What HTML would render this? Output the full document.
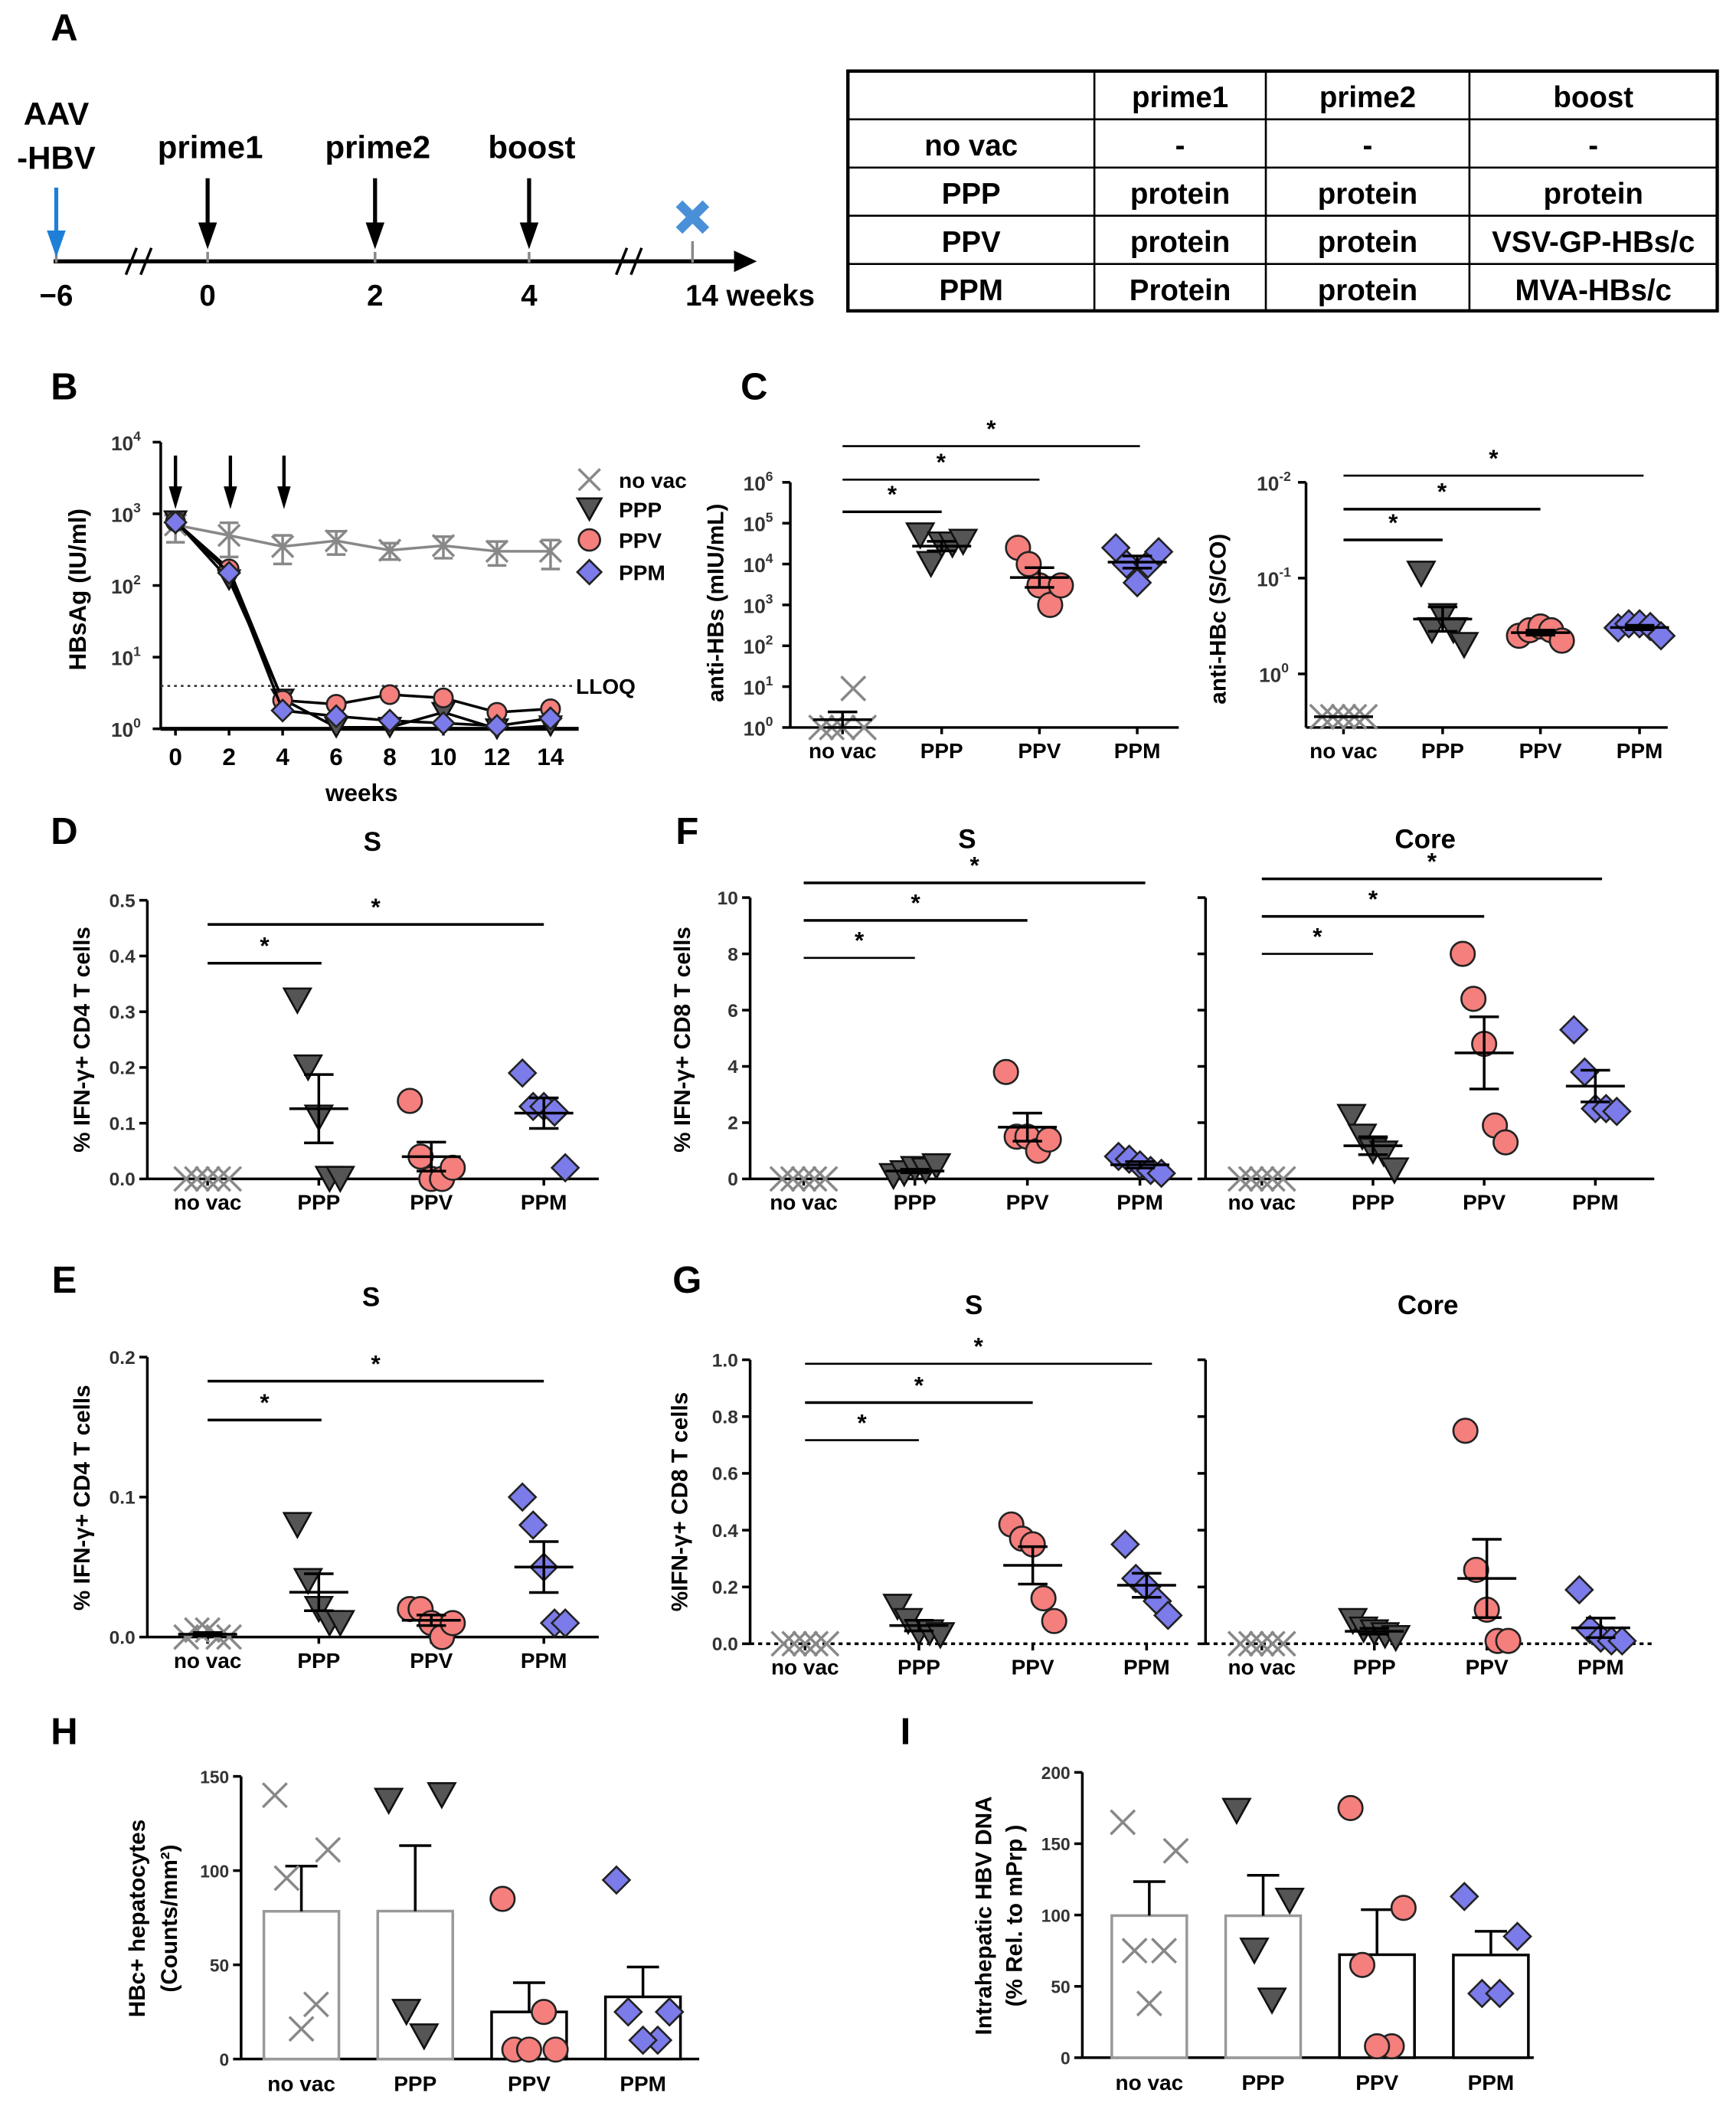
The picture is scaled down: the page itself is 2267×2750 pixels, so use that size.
<!DOCTYPE html>
<html><head><meta charset="utf-8"><style>
html,body{margin:0;padding:0;background:#fff}
svg{display:block;font-family:"Liberation Sans",Arial,sans-serif;font-weight:bold}
</style></head><body>
<svg id="fig" xmlns="http://www.w3.org/2000/svg" width="2267" height="2750" viewBox="0 0 1296 1572"></svg>
<script>
// ---------- DATA ----------
const groups=['no vac','PPP','PPV','PPM'];
const bWeeks=[0,2,4,6,8,10,12,14];
const bNoVac=[700,500,350,420,310,360,300,300];
const bNoVacErr=[300,250,150,150,80,120,110,130];
const bPPP=[800,120,2.6,1.05,1.05,1.7,1.0,1.1];
const bPPV=[780,170,2.5,2.2,3.0,2.7,1.7,1.9];
const bPPM=[760,150,1.8,1.5,1.3,1.2,1.1,1.4];
const cHBsNoVac=[1,1,1,9,1];
const cHBsPPP=[50000,10000,30000,30000,35000];
const cHBsPPV=[25000,10000,3000,1000,3000];
const cHBsPPM=[25000,10000,3500,10000,20000];
const cHBcNoVac=[2.8,2.8,2.8,2.8,2.8];
const cHBcPPP=[0.09,0.35,0.25,0.35,0.5];
const cHBcPPV=[0.4,0.35,0.32,0.35,0.45];
const cHBcPPM=[0.33,0.3,0.3,0.32,0.4];
const dPPP=[0.32,0.2,0.11,0.0,0.0];
const dPPV=[0.14,0.04,0.0,0.0,0.02];
const dPPM=[0.19,0.13,0.13,0.12,0.02];
const eNoVac=[0.0,0.005,0.005,0.0,0.0];
const ePPP=[0.08,0.04,0.02,0.01,0.01];
const ePPV=[0.02,0.02,0.01,0.0,0.01];
const ePPM=[0.1,0.08,0.05,0.01,0.01];
const fSPPP=[0.1,0.2,0.35,0.3,0.45];
const fSPPV=[3.8,1.5,1.5,1.0,1.4];
const fSPPM=[0.8,0.7,0.5,0.3,0.2];
const fCPPP=[2.2,1.5,1.0,0.9,0.3];
const fCPPV=[8.0,6.4,4.8,1.9,1.3];
const fCPPM=[5.3,3.8,2.5,2.5,2.4];
const gSPPP=[0.13,0.08,0.04,0.04,0.03];
const gSPPV=[0.42,0.37,0.35,0.16,0.08];
const gSPPM=[0.35,0.23,0.2,0.15,0.1];
const gCPPP=[0.08,0.05,0.04,0.03,0.02];
const gCPPV=[0.75,0.26,0.12,0.01,0.01];
const gCPPM=[0.19,0.05,0.02,0.01,0.01];
const hNoVac=[140,111,96,29,16];
const hPPP=[137,140,25,12];
const hPPV=[85,5,5,25,5];
const hPPM=[95,25,25,10,10];
const iNoVac=[165,145,75,75,38];
const iPPP=[173,110,75,40];
const iPPV=[175,105,65,8,8];
const iPPM=[113,85,45,45];
const zeros=[0,0,0,0,0];

// ---------- HELPERS ----------
const NS='http://www.w3.org/2000/svg';
const svg=document.getElementById('fig');
function mk(tag,a,p){const e=document.createElementNS(NS,tag);for(const k in a)e.setAttribute(k,a[k]);(p||svg).appendChild(e);return e;}
function tx(x,y,s,size,anchor,p,extra){const e=mk('text',Object.assign({x:x,y:y,'font-size':size,'text-anchor':anchor||'middle',fill:'#000'},extra||{}),p);e.textContent=s;return e;}
function line(x1,y1,x2,y2,p,w,c,dash){const e=mk('line',{x1:x1,y1:y1,x2:x2,y2:y2,stroke:c||'#000','stroke-width':w||2},p);if(dash)e.setAttribute('stroke-dasharray',dash);return e;}
function grp(name,p){const g=mk('g',{},p);return g;}
const STY={nv:{t:'x'},ppp:{t:'tri'},ppv:{t:'cir'},ppm:{t:'dia'}};
const keys=['nv','ppp','ppv','ppm'];
function marker(t,x,y,p,s){s=s||9;let e;
 if(t==='x'){e=mk('g',{},p);line(x-s,y-s,x+s,y+s,e,2,'#888');line(x-s,y+s,x+s,y-s,e,2,'#888');}
 else if(t==='tri'){e=mk('polygon',{points:`${x-s-1},${y-s} ${x+s+1},${y-s} ${x},${y+s}`,fill:'#555',stroke:'#111','stroke-width':1.5},p);}
 else if(t==='cir'){e=mk('circle',{cx:x,cy:y,r:s,fill:'#f47f7c',stroke:'#222','stroke-width':1.5},p);}
 else {e=mk('polygon',{points:`${x},${y-s-1} ${x+s+1},${y} ${x},${y+s+1} ${x-s-1},${y}`,fill:'#7b7bea',stroke:'#222','stroke-width':1.5},p);}
 return e;}
function stats(a){const m=a.reduce((s,v)=>s+v,0)/a.length;const sd=Math.sqrt(a.reduce((s,v)=>s+(v-m)*(v-m),0)/(a.length-1));return [m,sd/Math.sqrt(a.length)];}
const jit=[-16,-8,0,8,16];

function dotPanel(o){
 const g=grp(o.name);
 const base=o.base||o.yb;
 const Y=v=>{const t=o.log?Math.log10(Math.max(v,1e-9)):v;return o.yb-(t-o.min)/(o.max-o.min)*(o.yb-o.yt);};
 line(o.ax,o.yt,o.ax,base,g,2);
 line(o.ax,base,o.axEnd,base,g,2,'#000',o.dashBase?'3,3':null);
 o.ticks.forEach((t,i)=>{const y=o.log?o.yb-(t-o.min)/(o.max-o.min)*(o.yb-o.yt):Y(t);
  line(o.ax-6,y,o.ax,y,g,2);
  if(o.log){const e=tx(o.ax-24,y+6,'10',15,'middle',g,{fill:'#333'});const s=mk('tspan',{dy:-7,'font-size':10},e);s.textContent=o.tickLbl[i];}
  else if(o.tickLbl[i])tx(o.ax-9,y+5,o.tickLbl[i],14,'end',g,{fill:'#333'});});
 o.gx.forEach((x,i)=>{line(x,base,x,base+5,g,2);const l=tx(x,base+23,groups[i],16,'middle',g);});
 o.data.forEach((arr,i)=>{const gx=o.gx[i];const sg=grp('series-'+groups[i].replace(' ','-'),g);
  const vals=o.log?arr.map(v=>Math.log10(v)):arr;const [m,se]=stats(vals);
  const yv=v=>o.yb-(v-o.min)/(o.max-o.min)*(o.yb-o.yt);
  arr.forEach((v,j)=>{const mkr=marker(STY[keys[i]].t,gx+jit[j],Y(v),sg);});
  if(!(o.noMean&&o.noMean[i])){line(gx-22,yv(m),gx+22,yv(m),sg,2);line(gx,yv(m+se),gx,yv(m-se),sg,2);line(gx-11,yv(m+se),gx+11,yv(m+se),sg,2);line(gx-11,yv(m-se),gx+11,yv(m-se),sg,2);}
 });
 (o.sig||[]).forEach(s=>{line(s[0],s[2],s[1],s[2],g,s[3]||2);tx((s[0]+s[1])/2,s[2]-7,'*',18,'middle',g);});
 if(o.title)tx(o.title[0],o.title[1],o.title[2],20,'middle',g);
 if(o.ytitle)tx(0,0,o.ytitle[2],17,'middle',g,{transform:`translate(${o.ytitle[0]},${o.ytitle[1]}) rotate(-90)`});
 return g;}

// ---------- PANEL A ----------
(function(){const g=grp('panel-a-timeline');
 tx(48,30,'A',28,'middle',g);
 line(40,195,548,195,g,3);mk('polygon',{points:'548,187 565,195 548,203',fill:'#000'},g);
 [[94,105],[460,471]].forEach(b=>{line(b[0],205,b[0]+8,185,g,2);line(b[1],205,b[1]+8,185,g,2);});
 [[42,'−6'],[155,'0'],[280,'2'],[395,'4']].forEach(t=>{line(t[0],188,t[0],196,g,2,'#888');tx(t[0],228,t[1],22,'middle',g);});
 line(517,180,517,196,g,2,'#888');tx(560,228,'14 weeks',22,'middle',g);
 line(42,140,42,175,g,3,'#1e7fd8');mk('polygon',{points:'35,172 49,172 42,192',fill:'#1e7fd8'},g);
 tx(42,93,'AAV',24,'middle',g);tx(42,126,'-HBV',24,'middle',g);
 [[155,'prime1'],[280,'prime2'],[395,'boost']].forEach(a=>{line(a[0],133,a[0],168,g,3);mk('polygon',{points:`${a[0]-7},166 ${a[0]+7},166 ${a[0]},186`,fill:'#000'},g);tx(a[0]+2,118,a[1],24,'middle',g);});
 const xm=mk('g',{},g);
 line(507,152,527,172,xm,7,'#4a90d9');line(507,172,527,152,xm,7,'#4a90d9');
 const t=grp('regimen-table');
 const cols=[633,817,945,1097,1282],rows=[53,89,125,161,197,232];
 mk('rect',{x:633,y:53,width:649,height:179,fill:'none',stroke:'#000','stroke-width':2.5},t);
 cols.slice(1,4).forEach(c=>line(c,53,c,232,t,1.5));rows.slice(1,5).forEach(r=>line(633,r,1282,r,t,1.5));
 const cells=[['','prime1','prime2','boost'],['no vac','-','-','-'],['PPP','protein','protein','protein'],['PPV','protein','protein','VSV-GP-HBs/c'],['PPM','Protein','protein','MVA-HBs/c']];
 cells.forEach((r,i)=>r.forEach((c,j)=>{if(c)tx((cols[j]+cols[j+1])/2,rows[i]+27,c,22,'middle',t);}));
})();

// ---------- PANEL B ----------
(function(){const g=grp('panel-b-hbsag');tx(48,298,'B',28,'middle',g);
 const yb=544,dec=53.5,X=w=>131+20*w,Y=v=>yb-Math.log10(v)*dec;
 line(120,330,120,yb,g,2);line(120,yb,432,yb,g,3);
 for(let d=0;d<=4;d++){line(114,yb-d*dec,120,yb-d*dec,g,2);const e=tx(94,yb-d*dec+6,'10',15,'middle',g,{fill:'#333'});const s=mk('tspan',{dy:-7,'font-size':10},e);s.textContent=d;}
 bWeeks.forEach(w=>{line(X(w),yb,X(w),yb+5,g,2);tx(X(w),yb+27,String(w),18,'middle',g);});
 tx(270,598,'weeks',18,'middle',g);
 tx(0,0,'HBsAg (IU/ml)',18,'middle',g,{transform:'translate(64,440) rotate(-90)'});
 line(120,512,428,512,g,1.5,'#333','2,3');tx(430,518,'LLOQ',16,'start',g);
 [131,172,212].forEach(x=>{line(x,340,x,365,g,2.5);mk('polygon',{points:`${x-5},363 ${x+5},363 ${x},380`,fill:'#000'},g);});
 const nv=grp('series-no-vac',g);
 nv.appendChild(mk('polyline',{points:bWeeks.map((w,i)=>X(w)+','+Y(bNoVac[i])).join(' '),fill:'none',stroke:'#888','stroke-width':2}));
 bWeeks.forEach((w,i)=>{const hi=Y(bNoVac[i]+bNoVacErr[i]),lo=Y(bNoVac[i]-bNoVacErr[i]);line(X(w),hi,X(w),lo,nv,2,'#888');line(X(w)-7,hi,X(w)+7,hi,nv,2,'#888');line(X(w)-7,lo,X(w)+7,lo,nv,2,'#888');marker('x',X(w),Y(bNoVac[i]),nv,8);});
 [[bPPP,'tri','ppp'],[bPPV,'cir','ppv'],[bPPM,'dia','ppm']].forEach(s=>{const sg=grp('series-'+s[2],g);
  mk('polyline',{points:bWeeks.map((w,i)=>X(w)+','+Y(s[0][i])).join(' '),fill:'none',stroke:'#000','stroke-width':2},sg);
  bWeeks.forEach((w,i)=>{const m=marker(s[1],X(w),Y(s[0][i]),sg,7);});});
 const lg=grp('legend',g);
 [['x','no vac',358],['tri','PPP',380],['cir','PPV',403],['dia','PPM',427]].forEach(l=>{marker(l[0],440,l[2],lg,8);tx(462,l[2]+6,l[1],16,'start',lg);});
})();

// ---------- PANEL C ----------
tx(563,298,'C',28,'middle',svg);
dotPanel({name:'panel-c-anti-hbs',log:true,ax:590,axEnd:880,yb:543,yt:360,min:0,max:6,ticks:[0,1,2,3,4,5,6],tickLbl:['0','1','2','3','4','5','6'],gx:[629,703,776,849],data:[cHBsNoVac,cHBsPPP,cHBsPPV,cHBsPPM],sig:[[629,703,382],[629,776,358,1.5],[629,851,333,1.5]],ytitle:[540,450,'anti-HBs (mIU/mL)']});
dotPanel({name:'panel-c-anti-hbc',log:true,ax:975,axEnd:1245,yb:503,yt:360,base:543,min:0,max:-2,ticks:[0,-1,-2],tickLbl:['0','-1','-2'],gx:[1003,1077,1150,1224],data:[cHBcNoVac,cHBcPPP,cHBcPPV,cHBcPPM],sig:[[1003,1077,403],[1003,1150,380],[1003,1227,355,1.5]],ytitle:[915,462,'anti-HBc (S/CO)']});

// ---------- PANEL D ----------
tx(48,630,'D',28,'middle',svg);
dotPanel({name:'panel-d-cd4-s',ax:110,axEnd:447,yb:880,yt:672,min:0,max:0.5,ticks:[0,0.1,0.2,0.3,0.4,0.5],tickLbl:['0.0','0.1','0.2','0.3','0.4','0.5'],gx:[155,238,322,406],data:[zeros,dPPP,dPPV,dPPM],noMean:[true],sig:[[155,240,719],[155,406,690]],title:[278,635,'S'],ytitle:[67,776,'% IFN-γ+ CD4 T cells']});

// ---------- PANEL E ----------
tx(48,965,'E',28,'middle',svg);
dotPanel({name:'panel-e-cd4-s',ax:110,axEnd:447,yb:1222,yt:1013,min:0,max:0.2,ticks:[0,0.1,0.2],tickLbl:['0.0','0.1','0.2'],gx:[155,238,322,406],data:[eNoVac,ePPP,ePPV,ePPM],sig:[[155,240,1060],[155,406,1031]],title:[277,975,'S'],ytitle:[67,1118,'% IFN-γ+ CD4 T cells']});

// ---------- PANEL F ----------
tx(513,630,'F',28,'middle',svg);
dotPanel({name:'panel-f-cd8-s',ax:560,axEnd:890,yb:880,yt:670,min:0,max:10,ticks:[0,2,4,6,8,10],tickLbl:['0','2','4','6','8','10'],gx:[600,683,767,851],data:[zeros,fSPPP,fSPPV,fSPPM],noMean:[true],sig:[[600,683,715,1.5],[600,767,687],[600,855,659]],title:[722,633,'S'],ytitle:[515,776,'% IFN-γ+ CD8 T cells']});
dotPanel({name:'panel-f-cd8-core',ax:900,axEnd:1235,yb:880,yt:670,min:0,max:10,ticks:[0,2,4,6,8,10],tickLbl:['','','','','',''],gx:[942,1025,1108,1191],data:[zeros,fCPPP,fCPPV,fCPPM],noMean:[true],sig:[[942,1025,712,1.5],[942,1108,684],[942,1196,656]],title:[1064,633,'Core']});

// ---------- PANEL G ----------
tx(513,965,'G',28,'middle',svg);
dotPanel({name:'panel-g-cd8-s',ax:560,axEnd:890,yb:1227,yt:1015,min:0,max:1,ticks:[0,0.2,0.4,0.6,0.8,1.0],tickLbl:['0.0','0.2','0.4','0.6','0.8','1.0'],gx:[601,686,771,856],data:[zeros,gSPPP,gSPPV,gSPPM],noMean:[true],dashBase:true,sig:[[601,686,1075,1.5],[601,771,1047],[601,860,1018,1.5]],title:[727,981,'S'],ytitle:[513,1121,'%IFN-γ+ CD8 T cells']});
dotPanel({name:'panel-g-cd8-core',ax:900,axEnd:1235,yb:1227,yt:1015,min:0,max:1,ticks:[0,0.2,0.4,0.6,0.8,1.0],tickLbl:['','','','','',''],gx:[942,1026,1110,1195],data:[zeros,gCPPP,gCPPV,gCPPM],noMean:[true],dashBase:true,title:[1066,981,'Core']});

// ---------- BAR PANELS H / I ----------
function barPanel(o){const g=grp(o.name);
 const Y=v=>o.yb-v/o.max*(o.yb-o.yt);
 line(o.ax,o.yt,o.ax,o.yb,g,2);line(o.ax,o.yb,o.axEnd,o.yb,g,2);
 o.ticks.forEach(t=>{line(o.ax-6,Y(t),o.ax,Y(t),g,2);tx(o.ax-9,Y(t)+5,String(t),13,'end',g,{fill:'#333'});});
 o.data.forEach((arr,i)=>{const x=o.gx[i];const sg=grp('bar-group-'+groups[i].replace(' ','-'),g);
  const [m,se]=stats(arr);
  const b=mk('rect',{x:x-28,y:Y(m),width:56,height:o.yb-Y(m),fill:'#fff',stroke:i<2?'#999':'#000','stroke-width':2},sg);
  
  line(x,Y(m),x,Y(m+se),sg,2);line(x-12,Y(m+se),x+12,Y(m+se),sg,2);
  const off=arr.length===4?[-18,18,-6,6]:[-18,18,-10,10,0];
  arr.forEach((v,j)=>{const mm=marker(STY[keys[i]].t,x+off[j]*1.1,Y(v),sg,9);});
  tx(x,o.yb+24,groups[i],16,'middle',g);});
 o.ytitle.forEach(t=>tx(0,0,t[2],17,'middle',g,{transform:`translate(${t[0]},${t[1]}) rotate(-90)`}));
}
tx(48,1302,'H',28,'middle',svg);
barPanel({name:'panel-h-hbc-hepatocytes',ax:180,axEnd:522,yb:1537,yt:1326,max:150,ticks:[0,50,100,150],gx:[225,310,395,480],data:[hNoVac,hPPP,hPPV,hPPM],ytitle:[[108,1432,'HBc+ hepatocytes'],[132,1432,'(Counts/mm²)']]});
tx(676,1302,'I',28,'middle',svg);
barPanel({name:'panel-i-hbv-dna',ax:808,axEnd:1145,yb:1536,yt:1323,max:200,ticks:[0,50,100,150,200],gx:[858,943,1028,1113],data:[iNoVac,iPPP,iPPV,iPPM],ytitle:[[740,1430,'Intrahepatic HBV DNA'],[763,1430,'(% Rel. to mPrp )']]});
</script>
</body></html>
